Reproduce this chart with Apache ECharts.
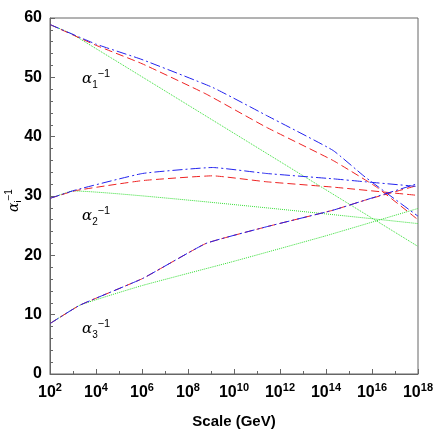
<!DOCTYPE html><html><head><meta charset="utf-8"><script src="https://cdn.jsdelivr.net/npm/echarts@6/dist/echarts.min.js"></script></head><body style="margin:0"><div id="c" style="width:436px;height:436px"></div><script>
const xTicks=[2,4,6,8,10,12,14,16,18];
const g1=[[2,58.9],[3,57.2],[18,21.5]];
const g2=[[2,29.6],[3,30.85],[18,25.35]];
const g3=[[2,8.5],[3.3,11.6],[6,14.9],[10,19.0],[14,23.3],[18,27.9]];
const r1=[[2,58.9],[4,55.4],[6,52.3],[8.78,47.2],[11.4,41.6],[14.3,36.0],[16.2,31.5],[18,26.0]];
const b1=[[2,58.9],[4,55.6],[6,53.0],[9.07,48.3],[11.4,43.6],[14.3,37.7],[15.7,33.2],[18,26.6]];
const r2=[[2,29.6],[3.1,30.9],[6.03,32.6],[9.07,33.4],[11.4,32.4],[14.3,31.5],[18,30.1]];
const b2=[[2,29.6],[3.1,31.0],[6.03,33.8],[9.07,34.8],[11.4,33.8],[14.3,32.9],[15.7,32.4],[18,31.6]];
const r3=[[2,8.5],[3.3,11.6],[6.03,16.1],[8.78,22.0],[11.4,24.8],[14.3,27.6],[15.7,29.3],[18,31.8]];
const b3=[[2,8.5],[3.3,11.6],[6.03,16.1],[8.78,22.0],[11.4,24.8],[14.3,27.6],[15.7,29.3],[18,32.1]];
const F='Liberation Sans';
function L(d,c,t){return {type:'line',data:d,showSymbol:false,smooth:0.12,lineStyle:{color:c,width:1,type:t},z:t=='dotted'?1:2};}
const ch=echarts.init(document.getElementById('c'));
ch.setOption({animation:false,
grid:{left:50,right:18,top:18,bottom:62},
xAxis:{type:'value',min:2,max:18,interval:2,axisLine:{lineStyle:{color:'#666'}},axisTick:{inside:true,length:5,lineStyle:{color:'#666'}},minorTick:{show:true,splitNumber:2,length:3},splitLine:{show:false},
 axisLabel:{formatter:v=>'{b|10}{s|'+v+'}',margin:8,rich:{b:{fontFamily:F,fontWeight:'bold',fontSize:16,color:'#000'},s:{fontFamily:F,fontWeight:'bold',fontSize:11,color:'#000',verticalAlign:'bottom',padding:[0,0,10,0]}}},
 name:'Scale (GeV)',nameLocation:'middle',nameGap:40,nameTextStyle:{fontFamily:F,fontWeight:'bold',fontSize:15,color:'#000'}},
yAxis:{type:'value',min:0,max:60,interval:10,axisLine:{lineStyle:{color:'#666'}},axisTick:{inside:true,length:5,lineStyle:{color:'#666'}},minorTick:{show:true,splitNumber:5,length:3},splitLine:{show:false},
 axisLabel:{fontFamily:F,fontWeight:'bold',fontSize:16,color:'#000',margin:8}},
graphic:[
 {type:'rect',shape:{x:50,y:18,width:368,height:356},style:{fill:null,stroke:'#666',lineWidth:1},silent:true},
 {type:'text',x:82,y:68,style:{text:'{a|α}{i|1}{e|−1}',rich:{a:{fontFamily:'DejaVu Serif',fontStyle:'italic',fontSize:15},i:{fontSize:10,fontFamily:F,verticalAlign:'top',padding:[12,0,0,0]},e:{fontSize:11,fontFamily:F,padding:[0,0,10,0]}}}},
 {type:'text',x:82,y:205,style:{text:'{a|α}{i|2}{e|−1}',rich:{a:{fontFamily:'DejaVu Serif',fontStyle:'italic',fontSize:15},i:{fontSize:10,fontFamily:F,padding:[12,0,0,0]},e:{fontSize:11,fontFamily:F,padding:[0,0,10,0]}}}},
 {type:'text',x:82,y:318,style:{text:'{a|α}{i|3}{e|−1}',rich:{a:{fontFamily:'DejaVu Serif',fontStyle:'italic',fontSize:15},i:{fontSize:10,fontFamily:F,padding:[12,0,0,0]},e:{fontSize:11,fontFamily:F,padding:[0,0,10,0]}}}},
 {type:'text',x:4,y:212,rotation:Math.PI/2,style:{text:'{a|α}{i|i}{e|−1}',rich:{a:{fontFamily:'DejaVu Serif',fontStyle:'italic',fontSize:14},i:{fontSize:9,fontFamily:F,padding:[10,0,0,0]},e:{fontSize:10,fontFamily:F,padding:[0,0,10,0]}}}}
],
series:[L(g1,'#33dd33','dotted'),L(g2,'#33dd33','dotted'),L(g3,'#33dd33','dotted'),
L(r1,'#ee2222',[8,4]),L(r2,'#ee2222',[8,4]),L(r3,'#ee2222',[8,4]),
L(b1,'#2222ee',[10,3,2,3]),L(b2,'#2222ee',[10,3,2,3]),L(b3,'#2222ee',[10,3,2,3])]});
</script></body></html>
